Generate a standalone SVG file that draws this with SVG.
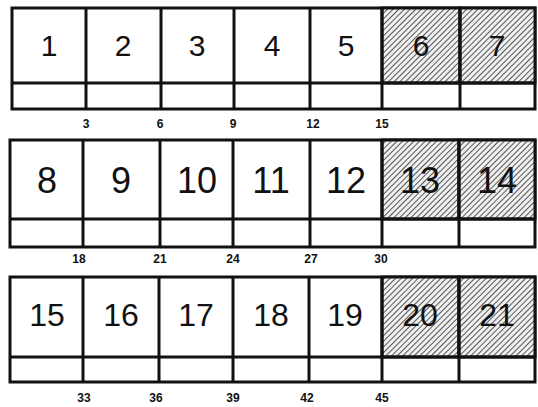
<svg xmlns="http://www.w3.org/2000/svg" width="538" height="407" viewBox="0 0 538 407">
<defs>
<pattern id="hatch" patternUnits="userSpaceOnUse" width="4" height="4" patternTransform="rotate(45)">
<rect width="4" height="4" fill="#f0f0f0"/>
<line x1="0" y1="0" x2="0" y2="4" stroke="#222" stroke-width="1.5"/>
</pattern>
<style>
.box{fill:#fff;stroke:#111;stroke-width:3}
.hb{fill:url(#hatch);stroke:#111;stroke-width:3}
.ln{stroke:#111;stroke-width:3;fill:none}
.n1{font-family:"Liberation Sans",Arial,sans-serif;font-size:30px;text-anchor:middle;fill:#111}
.n2{font-family:"Liberation Sans",Arial,sans-serif;font-size:36px;text-anchor:middle;fill:#111}
.n3{font-family:"Liberation Sans",Arial,sans-serif;font-size:32px;text-anchor:middle;fill:#111}
.s{font-family:"Liberation Sans",Arial,sans-serif;font-size:12px;font-weight:bold;text-anchor:middle;fill:#111}
</style>
</defs>
<rect width="538" height="407" fill="#fff"/>

<g id="row1">
<rect class="box" x="12" y="8" width="523" height="101"/>
<rect class="hb" x="382" y="8" width="78" height="75"/>
<rect class="hb" x="460" y="8" width="75" height="75"/>
<line class="ln" x1="12" y1="83" x2="535" y2="83"/>
<line class="ln" x1="86" y1="8" x2="86" y2="109"/>
<line class="ln" x1="161" y1="8" x2="161" y2="109"/>
<line class="ln" x1="234" y1="8" x2="234" y2="109"/>
<line class="ln" x1="310" y1="8" x2="310" y2="109"/>
<line class="ln" x1="382" y1="8" x2="382" y2="109"/>
<line class="ln" x1="460" y1="8" x2="460" y2="109"/>
<text class="n1" x="49" y="56">1</text>
<text class="n1" x="123" y="56">2</text>
<text class="n1" x="197" y="56">3</text>
<text class="n1" x="272" y="56">4</text>
<text class="n1" x="346" y="56">5</text>
<text class="n1" x="421" y="56">6</text>
<text class="n1" x="497" y="56">7</text>
<text class="s" x="86" y="128">3</text>
<text class="s" x="160" y="128">6</text>
<text class="s" x="233" y="128">9</text>
<text class="s" x="313" y="128">12</text>
<text class="s" x="382" y="128">15</text>
</g>

<g id="row2">
<rect class="box" x="10" y="140" width="525" height="107"/>
<rect class="hb" x="382" y="140" width="77" height="79"/>
<rect class="hb" x="459" y="140" width="76" height="79"/>
<line class="ln" x1="10" y1="219" x2="535" y2="219"/>
<line class="ln" x1="83" y1="140" x2="83" y2="247"/>
<line class="ln" x1="160" y1="140" x2="160" y2="247"/>
<line class="ln" x1="233" y1="140" x2="233" y2="247"/>
<line class="ln" x1="310" y1="140" x2="310" y2="247"/>
<line class="ln" x1="382" y1="140" x2="382" y2="247"/>
<line class="ln" x1="459" y1="140" x2="459" y2="247"/>
<text class="n2" x="47" y="193">8</text>
<text class="n2" x="121" y="193">9</text>
<text class="n2" x="197" y="193">10</text>
<text class="n2" x="271" y="193">11</text>
<text class="n2" x="346" y="193">12</text>
<text class="n2" x="420" y="193">13</text>
<text class="n2" x="497" y="193">14</text>
<text class="s" x="79" y="263">18</text>
<text class="s" x="160" y="263">21</text>
<text class="s" x="233" y="263">24</text>
<text class="s" x="311" y="263">27</text>
<text class="s" x="381" y="263">30</text>
</g>

<g id="row3">
<rect class="box" x="10" y="277" width="525" height="105"/>
<rect class="hb" x="382" y="277" width="77" height="80"/>
<rect class="hb" x="459" y="277" width="76" height="80"/>
<line class="ln" x1="10" y1="357" x2="535" y2="357"/>
<line class="ln" x1="83" y1="277" x2="83" y2="382"/>
<line class="ln" x1="159" y1="277" x2="159" y2="382"/>
<line class="ln" x1="233" y1="277" x2="233" y2="382"/>
<line class="ln" x1="309" y1="277" x2="309" y2="382"/>
<line class="ln" x1="382" y1="277" x2="382" y2="382"/>
<line class="ln" x1="459" y1="277" x2="459" y2="382"/>
<text class="n3" x="47" y="326">15</text>
<text class="n3" x="121" y="326">16</text>
<text class="n3" x="196" y="326">17</text>
<text class="n3" x="271" y="326">18</text>
<text class="n3" x="345" y="326">19</text>
<text class="n3" x="420" y="326">20</text>
<text class="n3" x="497" y="326">21</text>
<text class="s" x="84" y="402">33</text>
<text class="s" x="156" y="402">36</text>
<text class="s" x="233" y="402">39</text>
<text class="s" x="307" y="402">42</text>
<text class="s" x="382" y="402">45</text>
</g>
</svg>
